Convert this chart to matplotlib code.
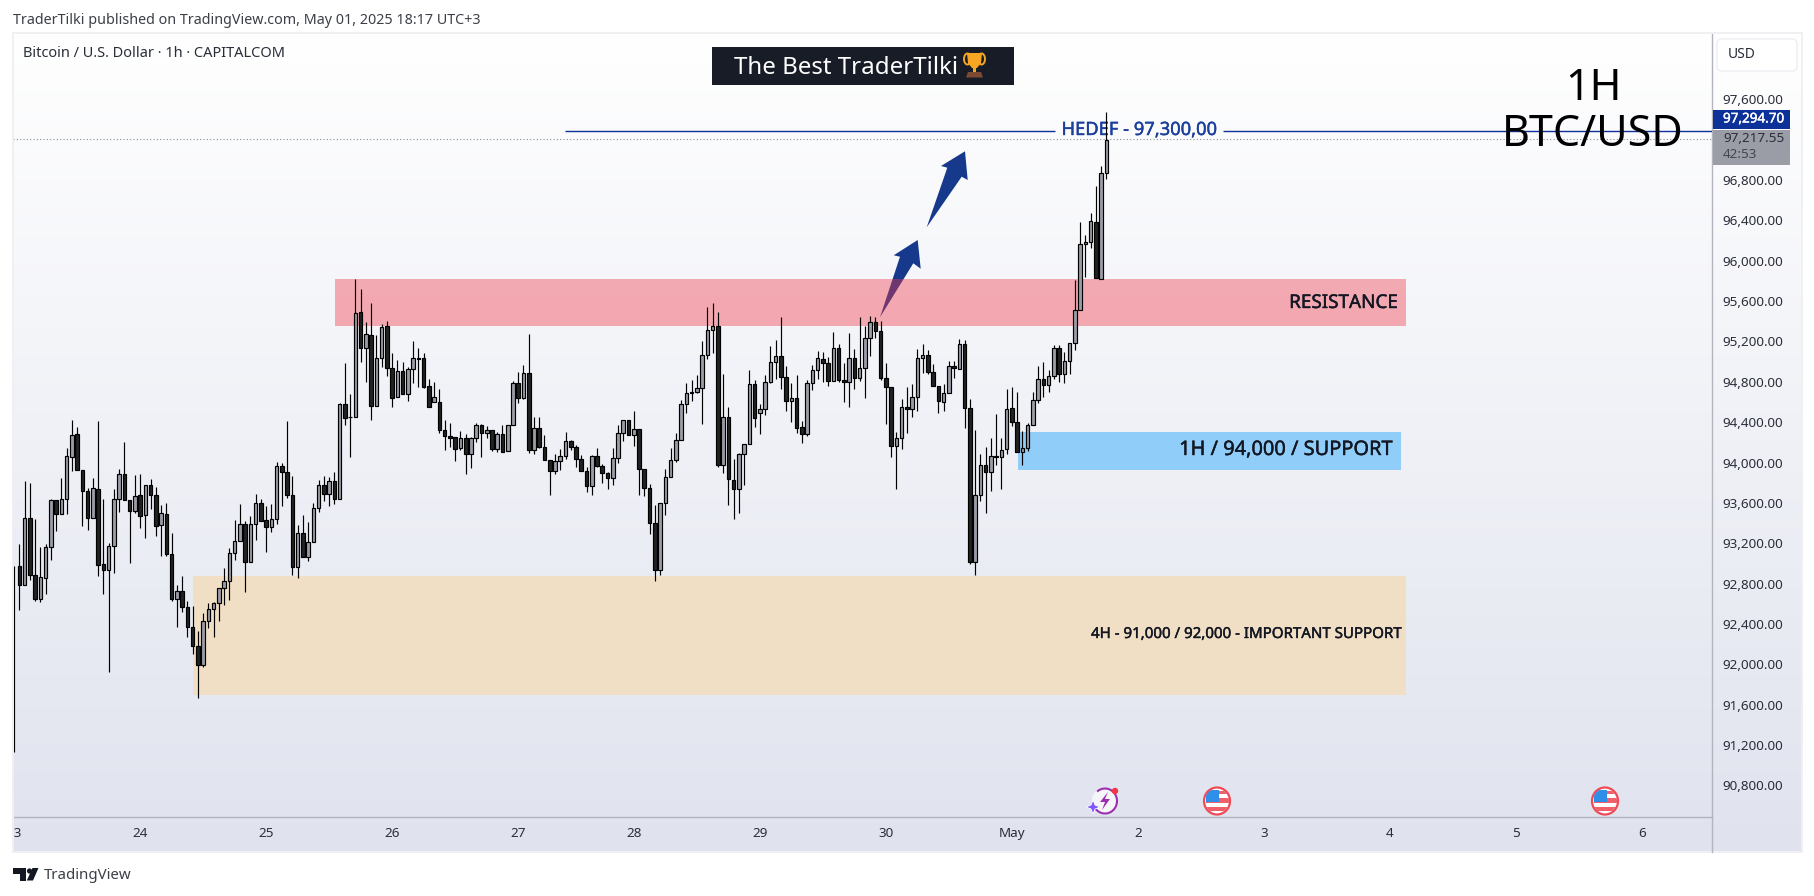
"""
plot.py
BTC/USD 1h candle chart, TradingView style, saved as out.png
"""

import matplotlib
matplotlib.use("Agg")
import matplotlib.patheffects as pe
import matplotlib.pyplot as plt
import numpy as np
from matplotlib.patches import Circle, Ellipse, FancyBboxPatch, Polygon, Rectangle, Arc
from matplotlib.transforms import Affine2D, Bbox

plt.rcParams["font.family"] = ["Noto Sans", "DejaVu Sans"]

# ─── Data ─────────────────────────────────────────────────────────────────────

opens = [
    93480, 92971, 92783, 93447, 92882, 92644, 92852, 93159, 93625, 93486,
    93635, 94051, 94279, 93922, 93714, 93447, 93734, 92991, 92931, 93169,
    93635, 93883, 93625, 93516, 93675, 93476, 93774, 93675, 93377, 93486,
    93090, 92644, 92723, 92565, 92366, 92178, 91990, 92426, 92545, 92604,
    92753, 92822, 93100, 93219, 93387, 93011, 93387, 93595, 93427, 93357,
    93437, 93962, 93902, 93675, 92961, 93298, 93060, 93209, 93546, 93774,
    93684, 93813, 93635, 94576, 94448, 94448, 95488, 95131, 95260, 94557,
    95032, 95349, 94933, 94646, 94903, 94676, 94923, 95032, 95032, 94755,
    94596, 94596, 94319, 94259, 94249, 94140, 94239, 94081, 94239, 94368,
    94289, 94319, 94130, 94279, 94111, 94368, 94785, 94636, 94884, 94121,
    94339, 94150, 94021, 93912, 94011, 94061, 94210, 94150, 94031, 93912,
    93764, 94061, 93962, 93893, 93843, 94041, 94289, 94418, 94269, 94329,
    93932, 93744, 93397, 92931, 93595, 93853, 94021, 94220, 94576, 94695,
    94695, 94735, 95062, 95310, 95349, 93972, 94448, 93823, 93734, 94081,
    94180, 94775, 94487, 94527, 94794, 94993, 95052, 94844, 94606, 94636,
    94348, 94279, 94785, 94913, 95022, 94983, 94804, 95131, 94814, 94794,
    95032, 94834, 94933, 95231, 95389, 95300, 94834, 94745, 94160, 94239,
    94547, 94527, 94646, 95032, 95062, 94894, 94755, 94596, 94685, 94953,
    94923, 95171, 94537, 93011, 93675, 93972, 93902, 94061, 94051, 94130,
    94537, 94398, 94101, 94140, 94368, 94616, 94824, 94765, 94854, 95131,
    94874, 95003, 95181, 95508, 96162, 96182, 96380, 95815, 96866,
]
highs = [
    93480, 93192, 93817, 93797, 93440, 93159, 93189, 93635, 93625, 93843,
    94140, 94421, 94348, 93922, 93747, 93843, 94408, 93635, 93199, 93737,
    93932, 94203, 93625, 93873, 93883, 93774, 93836, 93754, 93575, 93599,
    93298, 92786, 92875, 92624, 92578, 92330, 92505, 92604, 92614, 92753,
    92954, 93149, 93427, 93585, 93417, 93466, 93684, 93635, 93566, 93585,
    94002, 93992, 94408, 93863, 93381, 93476, 93407, 93595, 93823, 93863,
    93853, 93902, 94586, 94983, 94676, 95819, 95716, 95389, 95577, 95260,
    95369, 95399, 95082, 95012, 94993, 94950, 95201, 95131, 95082, 94824,
    94794, 94725, 94418, 94388, 94249, 94309, 94279, 94249, 94388, 94378,
    94358, 94319, 94299, 94368, 94368, 94804, 94894, 94963, 95270, 94448,
    94448, 94269, 94021, 94081, 94130, 94299, 94220, 94170, 94071, 93952,
    94071, 94140, 93982, 93902, 94140, 94368, 94418, 94418, 94507, 94329,
    93932, 93784, 93575, 93595, 93932, 94140, 94289, 94616, 94785, 94814,
    94864, 95201, 95538, 95577, 95488, 94874, 94547, 94031, 94091, 94180,
    94913, 94814, 94576, 94864, 95151, 95211, 95439, 94953, 94785, 94864,
    94408, 94814, 94963, 95102, 95092, 95042, 95290, 95171, 94983, 95280,
    95122, 95439, 95349, 95449, 95439, 95399, 94983, 94745, 94299, 94626,
    94745, 94775, 95122, 95171, 95112, 94973, 94755, 94775, 95003, 95003,
    95221, 95211, 94626, 94319, 94081, 94150, 94239, 94477, 94239, 94725,
    94745, 94695, 94309, 94388, 94695, 94953, 94993, 94917, 95161, 95161,
    95095, 95181, 95809, 96383, 96255, 96469, 96740, 96939, 97470,
]
lows = [
    91131, 92541, 92783, 92835, 92631, 92621, 92697, 93034, 93324, 93486,
    93490, 93919, 93922, 93371, 93331, 93447, 92875, 92697, 91927, 92908,
    93509, 93625, 93007, 93499, 93351, 93252, 93539, 93272, 93077, 93073,
    92631, 92370, 92522, 92271, 92102, 91669, 91976, 92360, 92271, 92429,
    92588, 92637, 93034, 93219, 92717, 93011, 93232, 93417, 93113, 93311,
    93390, 93569, 93648, 92885, 92855, 93060, 93024, 93209, 93509, 93618,
    93569, 93589, 93635, 94372, 94058, 94448, 94993, 94798, 94421, 94557,
    94950, 94857, 94553, 94646, 94676, 94609, 94788, 94752, 94742, 94547,
    94596, 94296, 94127, 94157, 94018, 94127, 93889, 93949, 94206, 94058,
    94246, 94117, 94107, 94101, 94111, 94368, 94593, 94626, 94097, 94087,
    94140, 94021, 93681, 93889, 93929, 94031, 94121, 93959, 93912, 93711,
    93681, 93952, 93800, 93741, 93780, 93998, 94216, 94269, 94167, 93681,
    93671, 93295, 92829, 92888, 93483, 93853, 94002, 94220, 94494, 94613,
    94685, 94385, 95022, 95088, 93952, 93893, 93582, 93443, 93503, 93780,
    94180, 94355, 94286, 94467, 94785, 94824, 94725, 94514, 94405, 94296,
    94197, 94259, 94715, 94824, 94794, 94755, 94804, 94794, 94599, 94553,
    94725, 94804, 94643, 95052, 95231, 94814, 94378, 94051, 93734, 94130,
    94289, 94454, 94507, 94884, 94874, 94755, 94487, 94507, 94685, 94834,
    94923, 94339, 92997, 92888, 93615, 93496, 93714, 93972, 93734, 94081,
    94358, 94101, 93978, 94111, 94368, 94593, 94652, 94699, 94824, 94798,
    94791, 94877, 95115, 95508, 95842, 96123, 95825, 95815, 96806,
]
closes = [
    92971, 92783, 93447, 92882, 92644, 92862, 93159, 93625, 93486, 93635,
    94061, 94269, 93922, 93714, 93447, 93744, 92981, 92931, 93169, 93635,
    93883, 93625, 93516, 93665, 93466, 93774, 93675, 93367, 93496, 93090,
    92644, 92723, 92565, 92366, 92178, 91990, 92426, 92545, 92604, 92753,
    92822, 93100, 93219, 93387, 93011, 93387, 93595, 93417, 93357, 93437,
    93962, 93902, 93675, 92961, 93298, 93060, 93209, 93546, 93774, 93684,
    93813, 93635, 94576, 94438, 94448, 95478, 95131, 95270, 94557, 95032,
    95340, 94933, 94636, 94903, 94676, 94923, 95032, 95028, 94752, 94547,
    94646, 94325, 94259, 94246, 94130, 94239, 94081, 94239, 94368, 94289,
    94319, 94130, 94279, 94101, 94368, 94785, 94636, 94884, 94121, 94339,
    94150, 94021, 93912, 94011, 94061, 94210, 94150, 94031, 93912, 93764,
    94061, 93962, 93893, 93843, 94041, 94289, 94418, 94269, 94329, 93932,
    93744, 93397, 92931, 93595, 93853, 94021, 94220, 94576, 94685, 94685,
    94735, 95062, 95310, 95349, 93972, 94448, 93833, 93734, 94081, 94180,
    94775, 94438, 94527, 94794, 94993, 95052, 94844, 94606, 94636, 94339,
    94279, 94785, 94913, 95032, 94983, 94804, 95131, 94814, 94794, 95032,
    94834, 94933, 95231, 95389, 95300, 94834, 94745, 94160, 94239, 94547,
    94527, 94646, 95032, 95062, 94894, 94755, 94606, 94685, 94953, 94933,
    95171, 94537, 93011, 93675, 93972, 93902, 94061, 94051, 94121, 94527,
    94398, 94101, 94140, 94368, 94616, 94824, 94765, 94854, 95131, 94874,
    95003, 95181, 95508, 96162, 96182, 96390, 95825, 96866, 97199,
]

price_ticks = [90800, 91200, 91600, 92000, 92400, 92800, 93200, 93600, 94000,
               94400, 94800, 95200, 95600, 96000, 96400, 96800, 97600]
day_ticks = [0, 24, 48, 72, 96, 118, 142, 166, 190, 214, 238, 262, 286, 310]
day_labels = ["23", "24", "25", "26", "27", "28", "29", "30", "May", "2", "3", "4", "5", "6"]

target_level = 97283
last_level = 97206

# zones: (first bar, last bar, low, high)
zone_resistance = (61.1, 265.0, 95353, 95819)
zone_support_1h = (191.2, 264.1, 93926, 94303)
zone_support_4h = (34.1, 265.0, 91696, 92875)

UP = "#9b9da6"
DOWN = "#222222"
NAVY = "#0c3299"
ARROW = "#17398c"
AXIS_LINE = "#b2b5be"
TEXT = "#2a2e39"

# ─── Figure ───────────────────────────────────────────────────────────────────

W, H = 1815, 896
fig = plt.figure(figsize=(W / 100, H / 100), dpi=100, facecolor="white")
PX = Affine2D().scale(1, -1).translate(0, H)  # image pixels -> display


def fig_rect(x0, y0, x1, y1):
    return [x0 / W, 1 - y1 / H, (x1 - x0) / W, (y1 - y0) / H]


def heavy(colour, width=0.3):
    # the site's font is a touch heavier than Noto Sans regular
    return [pe.withStroke(linewidth=width, foreground=colour)]


# gradient behind the whole widget
bg = fig.add_axes(fig_rect(13, 33, 1802, 852), zorder=-1)
grad = np.linspace(0, 1, 256)[:, None, None]
top, bot = np.array([1.0, 1.0, 1.0]), np.array([224, 227, 238]) / 255
bg.imshow(top + grad * (bot - top), aspect="auto")
bg.axis("off")

ax = fig.add_axes(fig_rect(13, 33, 1712, 817))
ax.patch.set_visible(False)
ax.set_xlim(-0.2, 323.3)
ax.set_ylim(90487, 98257)

for s in ("top", "left"):
    ax.spines[s].set_visible(False)
for s in ("right", "bottom"):
    ax.spines[s].set_color(AXIS_LINE)
    ax.spines[s].set_linewidth(1.0)

ax.yaxis.tick_right()
ax.set_yticks(price_ticks, [f"{v:,.2f}" for v in price_ticks])
ax.set_xticks(day_ticks, day_labels)
ax.tick_params(axis="y", length=0, pad=7.5, labelsize=9.7, labelcolor=TEXT)
ax.tick_params(axis="x", length=0, pad=7.5, labelsize=9.7, labelcolor=TEXT)
ax.get_xticklabels()[0].set_clip_box(Bbox([[13, 0], [300, H]]))
ax.get_xticklabels()[0].set_clip_on(True)

# ─── Drawings under the zones ─────────────────────────────────────────────────

arrow_low = [(880, 317.3), (900, 256.7), (893.7, 255.3), (917.7, 240),
             (920.7, 268.7), (913.3, 263.3)]
arrow_high = [(926.7, 227.3), (947.3, 167.7), (941, 166), (965, 151.3),
              (967.7, 180), (961.7, 176.7)]
for pts in (arrow_low, arrow_high):
    ax.add_patch(Polygon(pts, closed=True, fc=ARROW, ec="none", transform=PX, zorder=1))

x0, x1, lo, hi = zone_resistance
ax.add_patch(Rectangle((x0, lo), x1 - x0, hi - lo, fc="#f23645", ec="none", alpha=0.40, zorder=2))
x0, x1, lo, hi = zone_support_1h
ax.add_patch(Rectangle((x0, lo), x1 - x0, hi - lo, fc="#90cdf9", ec="none", zorder=2))
x0, x1, lo, hi = zone_support_4h
ax.add_patch(Rectangle((x0, lo), x1 - x0, hi - lo, fc="#f1dfc5", ec="none", zorder=2))

# ─── Candles ──────────────────────────────────────────────────────────────────

o, h, l, c = map(np.array, (opens, highs, lows, closes))
x = np.arange(len(c))
ax.vlines(x[1:], l[1:], h[1:], color="black", lw=0.85, zorder=4)
ax.vlines(x[0], l[0], c[0], color="black", lw=0.85, zorder=4)
bars = ax.bar(x, np.abs(c - o), bottom=np.minimum(o, c), width=0.68,
              color=np.where(c >= o, UP, DOWN), edgecolor="black", linewidth=0.85, zorder=5)

# first candle is cut by the pane edge, only a sliver of it shows
bars[0].set_edgecolor("none")
bars[0].set_facecolor("#8e9098")
bars[0].set_x(-0.3)
bars[0].set_width(0.2)

# ─── Levels ───────────────────────────────────────────────────────────────────

ax.axhline(last_level, color="#8a8d96", lw=0.8, ls=(0, (1, 2)), zorder=3)
for x_from, x_to in ((104.9, 198.2), (230.2, 323.3)):
    ax.hlines(target_level, x_from, x_to, color=NAVY, lw=1.0, zorder=3)
ax.text(1139, 130, "HEDEF - 97,300,00", transform=PX, color="#1b3f9c", fontsize=13.2,
        ha="center", va="center", zorder=3, path_effects=heavy("#1b3f9c"))

# ─── Zone labels ──────────────────────────────────────────────────────────────

ax.text(1398, 303, "RESISTANCE", transform=PX, color="#131722", fontsize=13.6,
        ha="right", va="center", zorder=6, path_effects=heavy("#131722"))
ax.text(1393, 450, "1H / 94,000 / SUPPORT", transform=PX, color="#131722", fontsize=14.4,
        ha="right", va="center", zorder=6, path_effects=heavy("#131722"))
ax.text(1401, 634.5, "4H - 91,000 / 92,000 - IMPORTANT SUPPORT", transform=PX, color="#131722",
        fontsize=10.85, ha="right", va="center", zorder=6, path_effects=heavy("#131722"))

# ─── Title box and big label ──────────────────────────────────────────────────

ax.add_patch(Rectangle((712, 47), 302, 38, fc="#181c27", ec="none", transform=PX, zorder=6))
ax.text(734, 67.5, "The Best TraderTilki", transform=PX, color="white", fontsize=17.3,
        ha="left", va="center", zorder=7)

# trophy
for cx in (967.5, 981.5):
    ax.add_patch(Arc((cx, 59), 7, 11, transform=PX, ec="#f5a623", lw=1.4, zorder=7))
ax.add_patch(Polygon([(967, 53), (982, 53), (981, 63), (977, 68), (972, 68), (968, 63)],
                     closed=True, fc="#f5a623", ec="none", transform=PX, zorder=8))
ax.add_patch(Rectangle((973, 67), 3, 5, fc="#f5a623", ec="none", transform=PX, zorder=8))
ax.add_patch(Polygon([(968, 72), (981, 72), (983, 77.5), (966, 77.5)], closed=True,
                     fc="#7b4a32", ec="none", transform=PX, zorder=8))

ax.text(1593, 89, "1H", transform=PX, color="black", fontsize=31, ha="center", va="center", zorder=8)
ax.text(1593, 134.5, "BTC/USD", transform=PX, color="black", fontsize=31, ha="center", va="center", zorder=8)

# ─── Event icons ──────────────────────────────────────────────────────────────


def draw_flag(cx, cy):
    disc = Ellipse((cx, cy), 26, 27, fc="white", ec="#ef4a55", lw=1.6, transform=PX, zorder=6)
    ax.add_patch(disc)
    for r in (Rectangle((cx - 11, cy - 10), 24, 3, fc="#f0606a", ec="none", transform=PX, zorder=7),
              Rectangle((cx - 11, cy - 2.7), 24, 4.4, fc="#f0606a", ec="none", transform=PX, zorder=7),
              Rectangle((cx - 11, cy + 5.7), 24, 4, fc="#f0606a", ec="none", transform=PX, zorder=7),
              Rectangle((cx - 11, cy - 11), 13, 12, fc="#2f8fe8", ec="none", transform=PX, zorder=8)):
        ax.add_patch(r)
        r.set_clip_path(Ellipse((cx, cy), 24, 25, transform=PX))


draw_flag(1217, 801)
draw_flag(1605, 801)

# purple spark icon
ax.add_patch(Ellipse((1105, 801), 26, 27, fc="white", ec="none", alpha=0.7, transform=PX, zorder=6))
ax.add_patch(Arc((1105, 801), 24, 25, theta1=-130, theta2=160, ec="#9c2fb0", lw=1.5, transform=PX, zorder=7))
ax.add_patch(Polygon([(1108, 792), (1100, 802), (1105, 802), (1102, 810), (1110, 799), (1105, 799)],
                     closed=True, fc="#9c2fb0", ec="none", transform=PX, zorder=7))
ax.add_patch(Polygon([(1093, 800), (1095, 805), (1100, 807), (1095, 809), (1093, 814),
                      (1091, 809), (1086, 807), (1091, 805)], closed=True,
                     fc="#7e57ff", ec="white", lw=0.6, transform=PX, zorder=8))
ax.add_patch(Circle((1115, 791), 3.2, fc="#f23645", ec="none", transform=PX, zorder=8))

# ─── Price axis decorations ───────────────────────────────────────────────────

fig.add_artist(plt.Line2D([1712, 1712], [817, 852], color=AXIS_LINE, lw=1.0, transform=PX))
fig.add_artist(Rectangle((13, 33), 1789, 819, fc="none", ec="#f0f0f2", lw=1.4, transform=PX))
fig.add_artist(FancyBboxPatch((1717, 39), 80, 32, boxstyle="round,pad=0,rounding_size=5",
                              fc="white", ec="#eceef2", lw=1.0, transform=PX))
fig.text(1728, 54.5, "USD", transform=PX, color=TEXT, fontsize=10, ha="left", va="center")

fig.add_artist(Rectangle((1713, 110), 77, 19, fc=NAVY, ec="none", transform=PX))
fig.text(1723, 119, "97,294.70", transform=PX, color="white", fontsize=9.7,
         ha="left", va="center", zorder=5, path_effects=heavy("white"))
fig.add_artist(Rectangle((1713, 130), 77, 35, fc="#9a9da6", ec="none", transform=PX))
fig.text(1723, 138, "97,217.55", transform=PX, color=TEXT, fontsize=9.7, ha="left", va="center", zorder=5)
fig.text(1723, 154, "42:53", transform=PX, color="#434651", fontsize=9.7, ha="left", va="center", zorder=5)

# ─── Header and footer ────────────────────────────────────────────────────────

fig.text(13, 20, "TraderTilki published on TradingView.com, May 01, 2025 18:17 UTC+3", transform=PX,
         color="#3c3f47", fontsize=10.3, ha="left", va="center")
fig.text(23, 53.5, "Bitcoin / U.S. Dollar · 1h · CAPITALCOM", transform=PX,
         color=TEXT, fontsize=10.5, ha="left", va="center")

fig.add_artist(Polygon([(13, 868), (26, 868), (26, 880.5), (20, 880.5), (20, 874), (13, 874)],
                       closed=True, fc="#131722", ec="none", transform=PX))
fig.add_artist(Circle((29.5, 871), 2.6, fc="#131722", ec="none", transform=PX))
fig.add_artist(Polygon([(32.5, 868), (38.5, 868), (33, 880.5), (26.8, 880.5)],
                       closed=True, fc="#131722", ec="none", transform=PX))
fig.text(44, 875, "TradingView", transform=PX, color="#3c3f47", fontsize=10.8, ha="left", va="center")

fig.savefig("out.png", dpi=100, facecolor="white")
